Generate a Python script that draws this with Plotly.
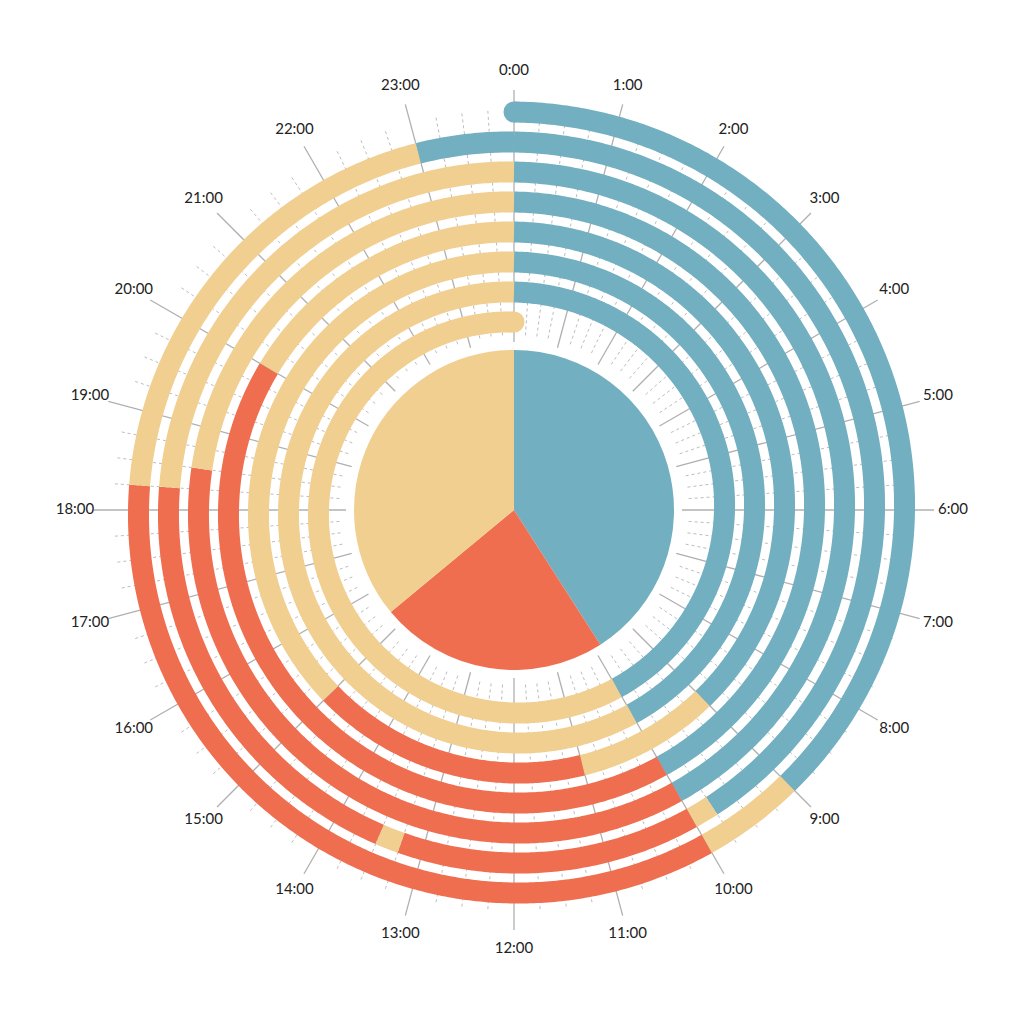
import numpy as np
import plotly.graph_objects as go

# one week of activity, drawn as a spiral that starts at 0:00 on day 1
colors = {"sleep": "#72AFC0", "work": "#F06E50", "free": "#F1CF90"}

seg_day = [1, 1, 1, 1, 1,
           2, 2, 2, 2, 2, 2,
           3, 3, 3,
           4, 4, 4,
           5, 5, 5, 5,
           6, 6,
           7, 7]
seg_start = [0, 9, 10, 18.25, 23,
             0, 9.75, 10, 13.25, 13.5, 18.25,
             0, 10, 18.5,
             0, 10, 20,
             0, 9, 11, 15,
             0, 10,
             0, 10]
seg_end = [9, 10, 18.25, 23, 24,
           9.75, 10, 13.25, 13.5, 18.25, 24,
           10, 18.5, 24,
           10, 20, 24,
           9, 11, 15, 24,
           10, 24,
           10, 24]
seg_cat = ["sleep", "free", "work", "free", "sleep",
           "sleep", "free", "work", "free", "work", "free",
           "sleep", "work", "free",
           "sleep", "work", "free",
           "sleep", "free", "work", "free",
           "sleep", "free",
           "sleep", "free"]

hour_labels = [f"{h}:00" for h in range(24)]

R0 = 398      # radius where the spiral starts
STEP = 30     # radius lost per day
BAND = 21     # band thickness in px
PIE_R = 160


def radius(t):
    return R0 - STEP * np.asarray(t) / 24.0


fig = go.Figure()

# minor quarter-hour ticks (dotted)
th, rr = [], []
for q in range(96):
    if q % 4 == 0:
        continue
    th += [q * 3.75, q * 3.75, None]
    rr += [175, 400, None]
fig.add_trace(go.Scatterpolar(r=rr, theta=th, mode="lines",
                              line=dict(color="#BDBDBD", width=1, dash="dot"),
                              hoverinfo="skip", showlegend=False))

# hour ticks
th, rr = [], []
for h in range(24):
    th += [h * 15, h * 15, None]
    rr += [168, 420, None]
fig.add_trace(go.Scatterpolar(r=rr, theta=th, mode="lines",
                              line=dict(color="#B0B0B0", width=1.3),
                              hoverinfo="skip", showlegend=False))

# centre pie from the weekly totals
cats = ["sleep", "work", "free"]
totals = [sum(e - s for s, e, c in zip(seg_start, seg_end, seg_cat) if c == k) for k in cats]
week = sum(totals)
spans = [v / week * 360 for v in totals]
centres = list(np.cumsum(spans) - np.array(spans) / 2)
fig.add_trace(go.Barpolar(r=[PIE_R] * 3, theta=centres, width=spans,
                          marker=dict(color=[colors[k] for k in cats], line=dict(width=0)),
                          hoverinfo="skip", showlegend=False))

# spiral bands
for d, s, e, c in zip(seg_day, seg_start, seg_end, seg_cat):
    t0 = (d - 1) * 24 + s
    t1 = (d - 1) * 24 + e
    n = max(2, int((e - s) * 30) + 1)
    t = np.linspace(t0, t1, n)
    fig.add_trace(go.Scatterpolar(r=radius(t), theta=t * 15, mode="lines",
                                  line=dict(color=colors[c], width=BAND),
                                  hoverinfo="skip", showlegend=False))

# round caps at both ends of the spiral
t_first = (seg_day[0] - 1) * 24 + seg_start[0]
t_last = (seg_day[-1] - 1) * 24 + seg_end[-1]
fig.add_trace(go.Scatterpolar(r=radius([t_first, t_last]), theta=[t_first * 15, t_last * 15],
                              mode="markers",
                              marker=dict(size=BAND, color=[colors[seg_cat[0]], colors[seg_cat[-1]]],
                                          line=dict(width=0)),
                              hoverinfo="skip", showlegend=False))

# hour labels
fig.add_trace(go.Scatterpolar(r=[439] * 24, theta=[h * 15 for h in range(24)],
                              mode="text", text=hour_labels,
                              textfont=dict(family="Lato, sans-serif", size=15, color="#222222"),
                              hoverinfo="skip", showlegend=False))

fig.update_layout(
    width=1024, height=1024,
    margin=dict(l=0, r=0, t=0, b=0),
    paper_bgcolor="white",
    polar=dict(
        domain=dict(x=[56 / 1024, 956 / 1024], y=[72 / 1024, 972 / 1024]),
        bgcolor="white",
        radialaxis=dict(range=[0, 450], visible=False),
        angularaxis=dict(direction="clockwise", rotation=90, visible=False),
    ),
    bargap=0,
)

fig.write_html("out.html")
